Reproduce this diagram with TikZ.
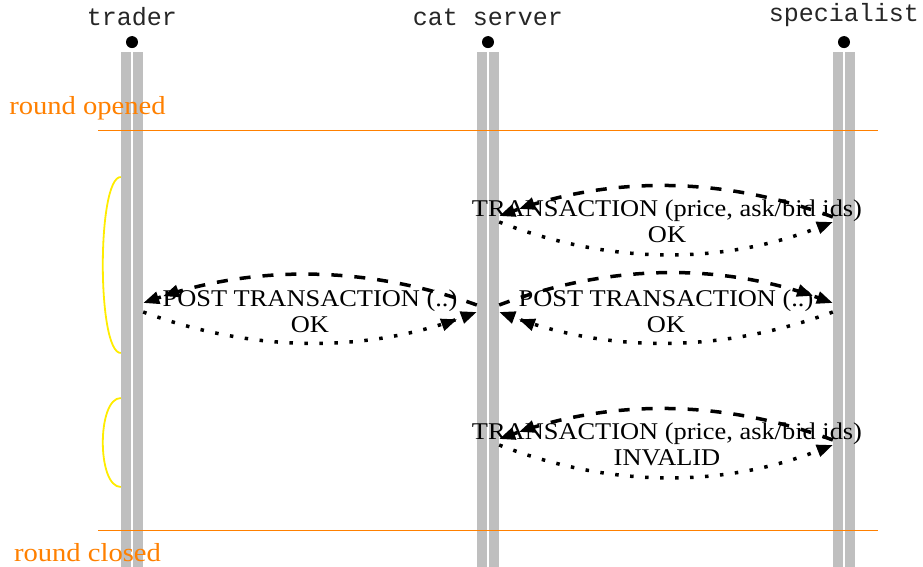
\documentclass[tikz,border=0pt]{standalone}
\usepackage{fontspec}
\setmainfont{Liberation Serif}
\setmonofont{Liberation Mono}
\newfontfamily\msgfont[FakeStretch=1.1]{Liberation Serif}
\usetikzlibrary{arrows.meta, positioning}

\definecolor{roundorange}{RGB}{255,128,0}
\definecolor{lifegray}{RGB}{191,191,191}
\definecolor{slotyellow}{RGB}{255,236,0}

\begin{document}
\begin{tikzpicture}[
    x=1pt, y=-1pt,
    lifeline/.style={rectangle, fill=lifegray, minimum width=22pt, minimum height=515pt, inner sep=0pt},
    dot/.style={circle, fill=black, minimum size=12pt, inner sep=0pt},
    actor/.style={font=\ttfamily\fontsize{25}{28}\selectfont, text=black!85, inner sep=0pt},
    phase/.style={font=\msgfont\fontsize{26}{28}\selectfont, text=roundorange, inner sep=0pt},
    phaseline/.style={draw=roundorange, line width=1.2pt},
    slot/.style={draw=slotyellow, line width=1.8pt},
    msg/.style={font=\msgfont\fontsize{24}{26}\selectfont, align=center, inner sep=0pt},
    heads/.style={-{Triangle[length=16pt,width=12pt,sep=5pt]Triangle[length=16pt,width=12pt]}},
    onehead/.style={-{Triangle[length=16pt,width=12pt]}},
    call/.style={draw, line width=3.5pt, dash pattern=on 11pt off 12pt, heads},
    answer/.style={draw, line width=3.5pt, dash pattern=on 3.5pt off 11.5pt, heads}
]
    \useasboundingbox (0,0) rectangle (923,567);

    % Lifelines with their owners
    \foreach \who/\xx/\txt in {trader/132/trader, server/488/cat server, spec/844/specialist}{
        \node [lifeline] (\who-life) at (\xx,309.5) {};
        \draw [white, line width=2pt] (\who-life.north) -- (\who-life.south);
        \node [dot, above=3.5pt of \who-life] (\who-dot) {};
        \node [actor, above=9.5pt of \who-dot] (\who) {\txt};
    }

    % Round boundaries
    \coordinate (open-l) at (98,130.5);
    \coordinate (open-r) at (878,130.5);
    \coordinate (close-l) at (98,530.5);
    \coordinate (close-r) at (878,530.5);
    \path [phaseline] (open-l) -- (open-r);
    \path [phaseline] (close-l) -- (close-r);
    \node [phase, anchor=base] (opened) at (87.5,115) {round opened};
    \node [phase, anchor=base] (closed) at (87.5,561) {round closed};

    % Trader activity
    \path [slot] (trader-life.west |- 0,177) .. controls +(-24,0) and +(-24,0) .. (trader-life.west |- 0,353);
    \path [slot] (trader-life.west |- 0,398) .. controls +(-24,0) and +(-24,0) .. (trader-life.west |- 0,487);

    % Labels
    \node [msg] (tx-one) at (667,221.7) {TRANSACTION (price, ask/bid ids)\\OK};
    \node [msg] (post-trader) at (310,311.7) {POST TRANSACTION (..)\\OK};
    \node [msg] (post-spec) at (666,311.7) {POST TRANSACTION (..)\\OK};
    \node [msg] (tx-two) at (667,444.7) {TRANSACTION (price, ask/bid ids)\\INVALID};

    % Specialist sends a transaction
    \path [call] (spec-life.west |- 0,217) .. controls +(-111,-41) and +(112,-40) .. (server-life.east |- 0,216);
    \path [answer, onehead] (server-life.east |- 0,222) .. controls +(111,43) and +(-111,43) .. (spec-life.west |- 0,222);

    % Server posts it to both sides
    \path [call] (server-life.west |- 0,305) .. controls +(-111,-40) and +(111,-38) .. (trader-life.east |- 0,303);
    \path [answer] (trader-life.east |- 0,312) .. controls +(111,41) and +(-111,41) .. (server-life.west |- 0,312);
    \path [call] (server-life.east |- 0,305) .. controls +(111,-42) and +(-111,-40) .. (spec-life.west |- 0,303);
    \path [answer] (spec-life.west |- 0,312) .. controls +(-111,41) and +(111,41) .. (server-life.east |- 0,312);

    % Rejected transaction
    \path [call] (spec-life.west |- 0,440) .. controls +(-111,-41) and +(112,-40) .. (server-life.east |- 0,439);
    \path [answer, onehead] (server-life.east |- 0,445) .. controls +(111,43) and +(-111,43) .. (spec-life.west |- 0,445);

\end{tikzpicture}
\end{document}
